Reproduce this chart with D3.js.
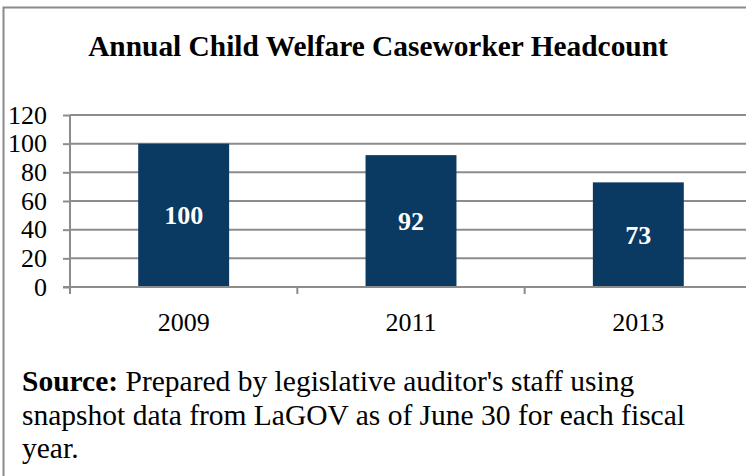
<!DOCTYPE html>
<html>
<head>
<meta charset="utf-8">
<script src="https://cdn.jsdelivr.net/npm/d3@7"></script>
<style>
  html, body { margin: 0; padding: 0; background: #fff; }
  svg { display: block; }
</style>
</head>
<body>
<svg id="chart" width="746" height="476"></svg>
<script>
// Chart data
const years = ["2009", "2011", "2013"];
const headcount = [100, 92, 73];
const yTicks = [0, 20, 40, 60, 80, 100, 120];
const titleText = "Annual Child Welfare Caseworker Headcount";
const sourceLabel = "Source:";
const sourceLines = [
  " Prepared by legislative auditor's staff using",
  "snapshot data from LaGOV as of June 30 for each fiscal",
  "year."
];

const FONT = '"Liberation Serif"';
const svg = d3.select("#chart").style("font-family", FONT);
const W = 746, H = 476;

// Frame around the figure
svg.append("path")
  .attr("d", `M3.5,${H} V7.5 H746`)
  .attr("fill", "none")
  .attr("stroke", "#8a8a8a")
  .attr("stroke-width", 2);

// Title
svg.append("text")
  .style("font-family", FONT)
  .attr("x", 378)
  .attr("y", 56)
  .attr("text-anchor", "middle")
  .attr("font-weight", "bold")
  .attr("font-size", 29.4)
  .text(titleText);

// Plot area
const plot = { left: 70, right: 752, top: 115, bottom: 287 };

const x = d3.scaleBand()
  .domain(years)
  .range([plot.left, plot.right])
  .paddingInner(0.6)
  .paddingOuter(0.3);

const y = d3.scaleLinear()
  .domain([0, 120])
  .range([plot.bottom, plot.top]);

// Horizontal gridlines
svg.append("g")
  .selectAll("line")
  .data(yTicks.filter(d => d > 0))
  .join("line")
  .attr("x1", plot.left)
  .attr("x2", W)
  .attr("y1", d => y(d))
  .attr("y2", d => y(d))
  .attr("stroke", "#8c8c8c")
  .attr("stroke-width", 2);

// Bars
svg.append("g")
  .selectAll("rect")
  .data(years)
  .join("rect")
  .attr("x", d => x(d))
  .attr("width", x.bandwidth())
  .attr("y", (d, i) => y(headcount[i]))
  .attr("height", (d, i) => y(0) - y(headcount[i]))
  .attr("fill", "#0a3a61");

// Value labels inside the bars
svg.append("g")
  .selectAll("text")
  .data(years)
  .join("text")
  .style("font-family", FONT)
  .attr("x", d => x(d) + x.bandwidth() / 2)
  .attr("y", (d, i) => (y(headcount[i]) + y(0)) / 2)
  .attr("dy", "0.35em")
  .attr("text-anchor", "middle")
  .attr("font-weight", "bold")
  .attr("font-size", 26)
  .attr("fill", "#fff")
  .text((d, i) => headcount[i]);

// Y axis
const yAxis = d3.axisLeft(y)
  .tickValues(yTicks)
  .tickSize(7)
  .tickPadding(16)
  .tickFormat(d3.format("d"));

const gy = svg.append("g")
  .attr("transform", `translate(${plot.left},0)`)
  .call(yAxis);
gy.attr("font-family", null);
gy.select(".domain").attr("stroke", "#8c8c8c").attr("stroke-width", 2)
  .attr("d", `M0,${plot.top} V${plot.bottom + 7}`);
gy.selectAll(".tick line").attr("stroke", "#8c8c8c").attr("stroke-width", 2);
gy.selectAll(".tick text")
  .style("font-family", FONT)
  .attr("font-size", 26)
  .attr("fill", "#000");

// X axis with ticks at category boundaries
const step = x.step();
const gx = svg.append("g")
  .attr("transform", `translate(0,${plot.bottom})`);
gx.append("line")
  .attr("x1", plot.left - 7)
  .attr("x2", W)
  .attr("stroke", "#8c8c8c")
  .attr("stroke-width", 2);
gx.selectAll("line.sep")
  .data(years.slice(1))
  .join("line")
  .attr("class", "sep")
  .attr("x1", d => x(d) - x.paddingInner() * step / 2)
  .attr("x2", d => x(d) - x.paddingInner() * step / 2)
  .attr("y1", 0)
  .attr("y2", 7)
  .attr("stroke", "#8c8c8c")
  .attr("stroke-width", 2);
gx.selectAll("text")
  .data(years)
  .join("text")
  .style("font-family", FONT)
  .attr("x", d => x(d) + x.bandwidth() / 2)
  .attr("y", 44)
  .attr("text-anchor", "middle")
  .attr("font-size", 26)
  .text(d => d);

// Source note
const note = svg.append("g").attr("font-size", 29.5);
note.selectAll("text")
  .data(sourceLines)
  .join("text")
  .style("font-family", FONT)
  .attr("x", 22)
  .attr("y", (d, i) => 391 + i * 33.5)
  .each(function(d, i) {
    const t = d3.select(this);
    if (i === 0) {
      t.append("tspan").style("font-family", FONT).attr("font-weight", "bold").text(sourceLabel);
      t.append("tspan").style("font-family", FONT).style("white-space", "pre").text(d);
    } else {
      t.text(d);
    }
  });
</script>
</body>
</html>
